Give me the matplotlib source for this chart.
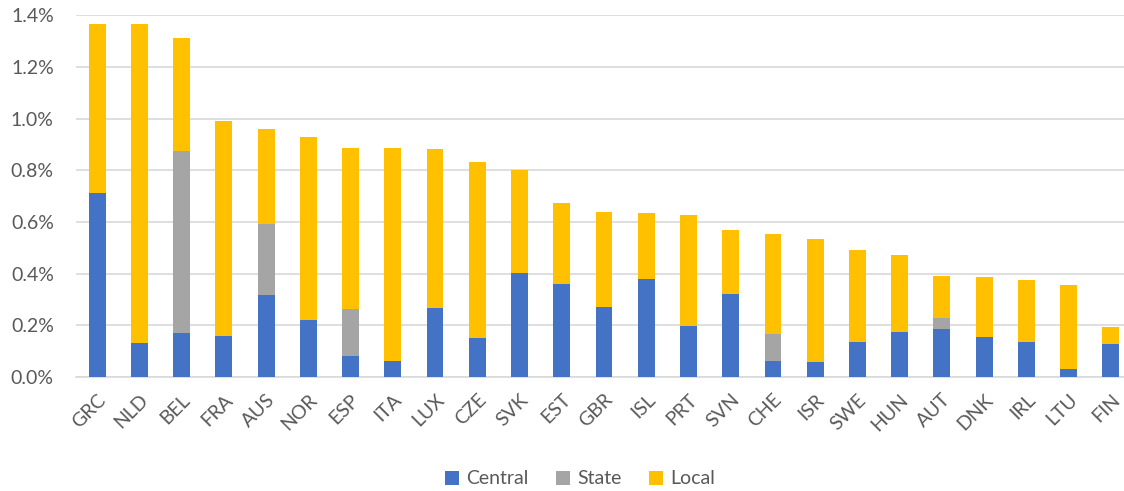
import numpy as np
import matplotlib.pyplot as plt
from matplotlib.ticker import FuncFormatter

# Subnational breakdown by level of government (% of GDP)
countries = ["GRC", "NLD", "BEL", "FRA", "AUS", "NOR", "ESP", "ITA", "LUX", "CZE",
             "SVK", "EST", "GBR", "ISL", "PRT", "SVN", "CHE", "ISR", "SWE", "HUN",
             "AUT", "DNK", "IRL", "LTU", "FIN"]
central = [0.712, 0.133, 0.172, 0.160, 0.319, 0.222, 0.082, 0.062, 0.267, 0.151,
           0.401, 0.361, 0.271, 0.381, 0.199, 0.322, 0.062, 0.058, 0.134, 0.175,
           0.187, 0.156, 0.136, 0.031, 0.128]
state = [0.0, 0.0, 0.704, 0.0, 0.275, 0.0, 0.182, 0.0, 0.0, 0.0,
         0.0, 0.0, 0.0, 0.0, 0.0, 0.0, 0.103, 0.0, 0.0, 0.0,
         0.043, 0.0, 0.0, 0.0, 0.0]
local = [0.656, 1.232, 0.436, 0.832, 0.366, 0.708, 0.624, 0.823, 0.617, 0.683,
         0.399, 0.313, 0.368, 0.254, 0.428, 0.246, 0.387, 0.476, 0.358, 0.297,
         0.161, 0.230, 0.240, 0.324, 0.066]

BLUE = "#4472C4"
GREY = "#A5A5A5"
GOLD = "#FFC000"
TXT = "#595959"

plt.rcParams["font.family"] = ["Lato", "DejaVu Sans"]

fig = plt.figure(figsize=(11.24, 4.91), dpi=100)
ax = fig.add_axes([76 / 1124, 1 - 377 / 491, 1 - 76 / 1124, (377 - 15.3) / 491])

x = np.arange(len(countries))
c = np.array(central)
s = np.array(state)
l = np.array(local)
w = 0.4
ax.bar(x, c, w, color=BLUE, label="Central", zorder=3)
ax.bar(x, s, w, bottom=c, color=GREY, label="State", zorder=3)
ax.bar(x, l, w, bottom=c + s, color=GOLD, label="Local", zorder=3)

ax.set_xlim(-0.5, 24.31)
ax.set_ylim(0, 1.4)
ax.set_yticks(np.arange(0, 1.41, 0.2))
ax.yaxis.set_major_formatter(FuncFormatter(lambda v, p: f"{v:.1f}%"))
ax.grid(axis="y", color="#D9D9D9", linewidth=1.2, zorder=0)
for sp in ["top", "right", "left"]:
    ax.spines[sp].set_visible(False)
ax.spines["bottom"].set_color("#D9D9D9")
ax.spines["bottom"].set_linewidth(1.2)
ax.tick_params(axis="both", length=0, colors=TXT, labelsize=14)
ax.tick_params(axis="y", pad=16)
ax.set_xticks(x)
ax.set_xticklabels(countries, rotation=45, ha="right", rotation_mode="anchor")
ax.tick_params(axis="x", pad=10)

fig.legend(loc="center", bbox_to_anchor=(580 / 1124, 1 - 479 / 491), ncol=3,
           frameon=False, fontsize=14, handlelength=0.75, handleheight=0.75,
           columnspacing=1.4, handletextpad=0.35, labelcolor=TXT)

fig.savefig("out.png", dpi=100)
